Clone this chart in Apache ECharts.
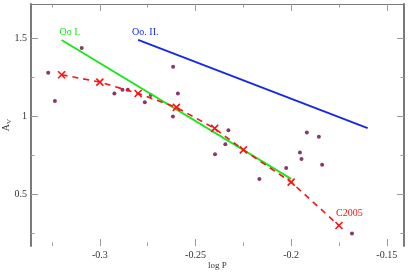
<!DOCTYPE html>
<html><head><meta charset="utf-8">
<script src="https://cdn.jsdelivr.net/npm/echarts@6/dist/echarts.min.js"></script>
<style>html,body{margin:0;padding:0;background:#fff}#c{width:409px;height:273px}</style>
</head><body><div id="c"></div>
<script>
// ---- data ----
const xMajorTicks = [-0.3, -0.25, -0.2, -0.15];
const xMinorTicks = [-0.325, -0.275, -0.225, -0.175];
const yMajorTicks = [0.5, 1, 1.5];
const yMinorTicks = [0.25, 0.75, 1.25];

const obsLogP = [-0.327, -0.3235, -0.3095, -0.2924, -0.2882, -0.2854, -0.2765, -0.2734, -0.2617, -0.2592, -0.2618,
                 -0.2328, -0.2344, -0.2398, -0.2166, -0.2026, -0.1954, -0.1946, -0.1918, -0.1855, -0.1838, -0.1682];
const obsAv   = [1.279, 1.098, 1.438, 1.147, 1.171, 1.171, 1.090, 1.137, 1.318, 1.147, 1.000,
                 0.911, 0.821, 0.758, 0.599, 0.669, 0.769, 0.728, 0.897, 0.869, 0.690, 0.250];

const ooILogP = [-0.32, -0.2];
const ooIAv   = [1.49, 0.60];
const ooIILogP = [-0.28, -0.16];
const ooIIAv   = [1.49, 0.925];
const c2005LogP = [-0.32, -0.30, -0.28, -0.26, -0.24, -0.225, -0.20, -0.175];
const c2005Av   = [1.267, 1.220, 1.147, 1.058, 0.923, 0.786, 0.579, 0.301];

const ooILabel = 'Oo I.';
const ooIILabel = 'Oo. II.';
const c2005Label = 'C2005';
const xName = 'log P';

// ---- styles ----
const FONT = '"Liberation Serif","DejaVu Serif","Times New Roman",serif';
const X_MIN = -0.336, X_MAX = -0.141, Y_MIN = 0.17, Y_MAX = 1.72;
const AXIS_COL = '#7a7a7a', TICK_COL = '#9a9a9a';
const GREEN = '#19e619', BLUE = '#1428e8', RED = '#ff1010', DOT = '#67074a';
const CROSS = 'path://M0,0L10,10M10,0L0,10';

function xAxis(pos, ticks, len, labels, line, lineW) {
  return {
    type: 'value', position: pos, min: X_MIN, max: X_MAX,
    splitLine: {show: false},
    axisLine: {show: line, onZero: false, lineStyle: {color: AXIS_COL, width: lineW}},
    axisTick: {show: true, inside: true, length: len, customValues: ticks, lineStyle: {color: TICK_COL, width: 1}},
    axisLabel: {show: labels, customValues: ticks, margin: 4, color: '#333', fontFamily: FONT, fontSize: 10,
                formatter: v => String(v)},
    ...(labels ? {name: xName, nameLocation: 'middle', nameGap: 15, nameMoveOverlap: false,
                  nameTextStyle: {fontFamily: FONT, fontSize: 9, color: '#333'}} : {})
  };
}
function yAxis(pos, ticks, len, labels, line, lineW) {
  return {
    type: 'value', position: pos, min: Y_MIN, max: Y_MAX,
    splitLine: {show: false},
    axisLine: {show: line, onZero: false, lineStyle: {color: AXIS_COL, width: lineW}},
    axisTick: {show: true, inside: true, length: len, customValues: ticks, lineStyle: {color: TICK_COL, width: 1}},
    axisLabel: {show: labels, customValues: ticks, margin: 4, color: '#333', fontFamily: FONT, fontSize: 10,
                formatter: v => String(v)},
    ...(labels ? {name: '{a|A}{v|V}', nameLocation: 'middle', nameGap: 18, nameMoveOverlap: false,
                  nameTextStyle: {rich: {
                    a: {fontFamily: FONT, fontSize: 10, color: '#333', lineHeight: 12, verticalAlign: 'top'},
                    v: {fontFamily: FONT, fontSize: 7, color: '#333', lineHeight: 7, padding: [5, 0, 0, 0], verticalAlign: 'top'}
                  }}} : {})
  };
}

function zip(xs, ys) { return xs.map((x, i) => [x, ys[i]]); }
function withStartLabel(xs, ys, text, color, pos) {
  return zip(xs, ys).map((p, i) => i === 0 ? {
    value: p, symbol: 'circle', symbolSize: 2, itemStyle: {color: 'rgba(0,0,0,0)', borderWidth: 0},
    label: {show: true, formatter: text, position: pos, color: color, fontFamily: FONT, fontSize: 10}
  } : {value: p, symbol: 'none'});
}

const c2005Data = zip(c2005LogP, c2005Av).map((p, i, arr) => i === arr.length - 1 ? {
  value: p,
  label: {show: true, formatter: c2005Label, position: [3, -11], color: RED, fontFamily: FONT, fontSize: 10}
} : {value: p});

const chart = echarts.init(document.getElementById('c'), null, {renderer: 'canvas'});
chart.setOption({
  animation: false,
  backgroundColor: '#fff',
  grid: {left: 31, right: 5, top: 4, bottom: 27, containLabel: false, outerBoundsMode: 'none'},
  xAxis: [
    xAxis('bottom', xMajorTicks, 7, true, false, 1),
    xAxis('bottom', xMinorTicks, 3.5, false, false, 1),
    xAxis('top', xMajorTicks, 7, false, true, 1),
    xAxis('top', xMinorTicks, 3.5, false, false, 1)
  ],
  yAxis: [
    yAxis('left', yMajorTicks, 7, true, true, 2),
    yAxis('left', yMinorTicks, 3.5, false, false, 2),
    yAxis('right', yMajorTicks, 7, false, true, 2),
    yAxis('right', yMinorTicks, 3.5, false, false, 2)
  ],
  series: [
    {type: 'scatter', data: zip(obsLogP, obsAv), symbol: 'circle', symbolSize: 4,
     itemStyle: {color: DOT}, z: 2, silent: true},
    {type: 'line', data: withStartLabel(ooILogP, ooIAv, ooILabel, GREEN, [-1, -12]), symbol: 'none',
     lineStyle: {color: GREEN, width: 1.8}, itemStyle: {color: GREEN}, z: 3, silent: true},
    {type: 'line', data: withStartLabel(ooIILogP, ooIIAv, ooIILabel, BLUE, [-5, -12]), symbol: 'none',
     lineStyle: {color: BLUE, width: 1.8}, itemStyle: {color: BLUE}, z: 3, silent: true},
    {type: 'line', data: c2005Data, symbol: CROSS, symbolSize: 7,
     lineStyle: {color: RED, width: 1.6, type: [6, 5]},
     itemStyle: {color: 'none', borderColor: RED, borderWidth: 1.6}, z: 4, silent: true}
  ]
});
</script>
</body></html>
